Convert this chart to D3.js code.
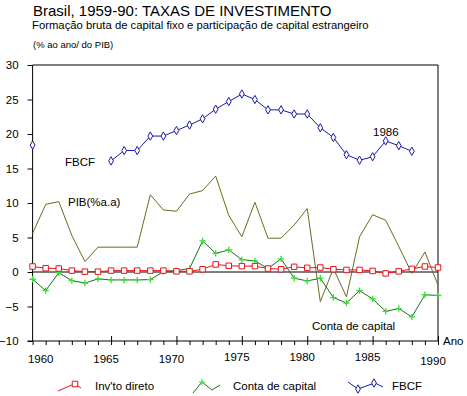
<!DOCTYPE html>
<html>
<head>
<meta charset="utf-8">
<script src="https://cdn.jsdelivr.net/npm/d3@7"></script>
<style>
  body { margin: 0; background: #fff; }
  svg { display: block; font-family: "Liberation Sans", Arial, sans-serif; }
</style>
</head>
<body>
<div id="chart"></div>
<script>
// data (% ao ano / do PIB)
const years = [1959, 1960, 1961, 1962, 1963, 1964, 1965, 1966, 1967, 1968,
               1969, 1970, 1971, 1972, 1973, 1974, 1975, 1976, 1977, 1978,
               1979, 1980, 1981, 1982, 1983, 1984, 1985, 1986, 1987, 1988,
               1989, 1990];
const invtoDireto = [0.8, 0.55, 0.5, 0.2, 0.05, 0.05, 0.2, 0.2, 0.2, 0.2,
                     0.2, 0.1, 0.1, 0.4, 1.1, 0.9, 0.85, 0.85, 0.5, 0.4,
                     0.75, 0.6, 0.65, 0.4, 0.3, 0.3, 0.15, -0.2, 0.1, 0.45,
                     0.8, 0.65];
const contaCapital = [-1.05, -2.7, -0.1, -1.25, -1.6, -1.0, -1.15, -1.15, -1.15, -1.1,
                      0.05, 0.2, 0.5, 4.5, 2.7, 3.2, 1.8, 1.6, 0.5, 1.9,
                      -0.9, -1.3, -0.9, -3.7, -4.5, -2.7, -3.9, -5.7, -5.3, -6.5,
                      -3.3, -3.4];
const fbcf = [18.4, null, null, null, null, null, 16.1, 17.6, 17.6, 19.7,
              19.7, 20.5, 21.3, 22.2, 23.6, 24.7, 25.8, 25.0, 23.5, 23.5,
              22.9, 22.9, 20.9, 19.5, 17.0, 16.2, 16.7, 19.0, 18.3, 17.5,
              null, null];
const pib = [5.6, 9.8, 10.2, 5.3, 1.5, 3.6, 3.6, 3.6, 3.6, 11.2,
             9.0, 8.8, 11.3, 11.8, 13.9, 8.2, 5.1, 10.1, 4.9, 4.9,
             6.8, 9.2, -4.3, 0.5, -3.6, 5.1, 8.3, 7.5, 3.7, -0.2,
             2.9, -1.9];
const yTicks = [-10, -5, 0, 5, 10, 15, 20, 25, 30];
const xTickLabels = [1960, 1965, 1970, 1975, 1980, 1985, 1990];

const width = 467, height = 396;
const margin = { top: 65, right: 29, bottom: 55, left: 32.6 };

const colors = {
    invto: "#e8141a",
    contaLine: "#1b6f1b",
    contaMark: "#33e033",
    fbcf: "#1a1aa8",
    pib: "#6f6a1c"
};

const svg = d3.select("#chart").append("svg")
    .attr("width", width)
    .attr("height", height);

const x = d3.scaleLinear()
    .domain([1959, 1990])
    .range([margin.left, width - margin.right]);
const y = d3.scaleLinear()
    .domain([-10, 30])
    .range([height - margin.bottom, margin.top]);

// titles
svg.append("text")
    .attr("x", 33).attr("y", 16)
    .attr("font-size", 15)
    .text("Brasil, 1959-90: TAXAS DE INVESTIMENTO");
svg.append("text")
    .attr("x", 32).attr("y", 29)
    .attr("font-size", 11.3)
    .text("Formação bruta de capital fixo e participação de capital estrangeiro");
svg.append("text")
    .attr("x", 33).attr("y", 48)
    .attr("font-size", 9.5)
    .text("(% ao ano/ do PIB)");

// frame: top and right lines
svg.append("path")
    .attr("d", `M${x(1959)},${y(30)}H${x(1990)}V${y(-10)}`)
    .attr("fill", "none")
    .attr("stroke", "#000");

// y axis
const yAxis = svg.append("g")
    .attr("transform", `translate(${x(1959)},0)`)
    .call(d3.axisLeft(y).tickValues(yTicks).tickSize(5).tickPadding(9));
yAxis.selectAll("text").attr("font-size", 11.5).attr("font-family", null);
yAxis.select(".domain").attr("d", `M0,${y(30)}V${y(-10)}`);

// x axis: minor ticks every year, below the line
const xAxis = svg.append("g")
    .attr("transform", `translate(0,${y(-10)})`)
    .call(d3.axisBottom(x).tickValues(years).tickSize(4).tickFormat(""));
xAxis.select(".domain").attr("d", `M${x(1959) - 5},0H${x(1990)}`);
// major ticks cross the line
xAxis.selectAll(".tick")
    .filter(d => d % 5 === 0 && d !== 1960)
    .select("line").attr("y1", -5);
svg.append("g")
    .selectAll("text")
    .data(xTickLabels)
    .enter().append("text")
    .attr("x", d => x(d) - 5)
    .attr("y", d => d === 1990 ? y(-10) + 24 : (d >= 1975 ? y(-10) + 20 : y(-10) + 22))
    .attr("text-anchor", "middle")
    .attr("font-size", 11.5)
    .text(d => d);
svg.append("text")
    .attr("x", x(1990) + 5).attr("y", y(-10) + 4)
    .attr("font-size", 11.5)
    .text("Ano");

// zero line
svg.append("line")
    .attr("x1", x(1959)).attr("x2", x(1990))
    .attr("y1", y(0)).attr("y2", y(0))
    .attr("stroke", "#000");

const rows = (vals) => years.map((yr, i) => ({ year: yr, value: vals[i] }));
const line = d3.line()
    .defined(d => d.value !== null)
    .x(d => x(d.year))
    .y(d => y(d.value));

// PIB growth, plain line
svg.append("path")
    .datum(rows(pib))
    .attr("fill", "none")
    .attr("stroke", colors.pib)
    .attr("d", line);

// series with markers
const series = [
    { key: "conta", vals: contaCapital, stroke: colors.contaLine, mark: colors.contaMark, symbol: d3.symbolCross, size: 30 },
    { key: "invto", vals: invtoDireto, stroke: colors.invto, mark: colors.invto, symbol: d3.symbolSquare, size: 30 },
    { key: "fbcf", vals: fbcf, stroke: colors.fbcf, mark: colors.fbcf, symbol: d3.symbolDiamond, size: 20 }
];

const crossPath = (s) => `M${-s},0H${s}M0,${-s}V${s}`;

series.forEach(s => {
    const data = rows(s.vals);
    svg.append("path")
        .datum(data)
        .attr("fill", "none")
        .attr("stroke", s.stroke)
        .attr("d", line);
    svg.append("g")
        .selectAll("path")
        .data(data.filter(d => d.value !== null))
        .enter().append("path")
        .attr("transform", d => `translate(${x(d.year)},${y(d.value)})`)
        .attr("d", s.key === "conta" ? crossPath(3.2) : d3.symbol().type(s.symbol).size(s.size)())
        .attr("fill", s.key === "conta" ? "none" : "#fff")
        .attr("stroke", s.mark)
        .attr("stroke-width", s.key === "conta" ? 1.3 : 1);
});

// annotations
const notes = [
    { text: "FBCF", x: 65, y: 166 },
    { text: "PIB(%a.a)", x: 68, y: 206 },
    { text: "1986", x: 373, y: 136 },
    { text: "Conta de capital", x: 312, y: 330 }
];
svg.append("g")
    .selectAll("text")
    .data(notes)
    .enter().append("text")
    .attr("x", d => d.x)
    .attr("y", d => d.y)
    .attr("font-size", 11.5)
    .text(d => d.text);

// legend with zigzag samples
const legend = [
    { label: "Inv'to direto", x: 58, tx: 95, pts: [[0, 6], [16, -1], [23, 3]], marks: [[17, -1]], s: series[1] },
    { label: "Conta de capital", x: 193, tx: 233, pts: [[0, 8], [9, -3], [19, 5], [27, 0]], marks: [[9, -3]], s: series[0] },
    { label: "FBCF", x: 348, tx: 392, pts: [[0, -3], [10, 4], [21, 0], [27, -2], [35, 2]], marks: [[10, 4], [26, -2]], s: series[2] }
];
const legendY = 385;
const lg = svg.append("g").attr("transform", `translate(0,${legendY})`);
legend.forEach(l => {
    const g = lg.append("g").attr("transform", `translate(${l.x},0)`);
    g.append("path")
        .attr("d", d3.line()(l.pts))
        .attr("fill", "none")
        .attr("stroke", l.s.stroke);
    g.selectAll(".m")
        .data(l.marks)
        .enter().append("path")
        .attr("transform", d => `translate(${d[0]},${d[1]})`)
        .attr("d", l.s.key === "conta" ? crossPath(3.2) : d3.symbol().type(l.s.symbol).size(l.s.size)())
        .attr("fill", l.s.key === "conta" ? "none" : "#fff")
        .attr("stroke", l.s.mark);
    lg.append("text")
        .attr("x", l.tx)
        .attr("y", 5)
        .attr("font-size", 11.5)
        .text(l.label);
});
</script>
</body>
</html>
